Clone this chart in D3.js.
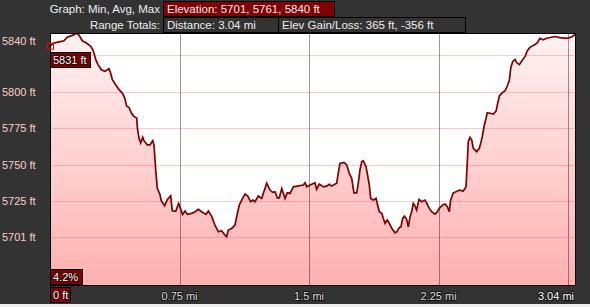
<!DOCTYPE html>
<html>
<head>
<meta charset="utf-8">
<script src="https://cdn.jsdelivr.net/npm/d3@7"></script>
<style>
  body { margin: 0; background: #efefef; }
  svg { display: block; font-family: "Liberation Sans", Arial, sans-serif; }
</style>
</head>
<body>
<script>
// profile (miles, feet)
const distances = [0.000, 0.019, 0.052, 0.081, 0.100, 0.129, 0.158, 0.168, 0.187, 0.213,
  0.236, 0.251, 0.265, 0.278, 0.297, 0.318, 0.332, 0.342, 0.351, 0.361,
  0.380, 0.400, 0.419, 0.433, 0.444, 0.457, 0.471, 0.486, 0.502, 0.506,
  0.515, 0.525, 0.537, 0.544, 0.563, 0.579, 0.595, 0.602, 0.612, 0.621,
  0.637, 0.644, 0.664, 0.679, 0.699, 0.708, 0.728, 0.745, 0.768, 0.782,
  0.795, 0.820, 0.840, 0.859, 0.878, 0.903, 0.917, 0.936, 0.955, 0.975,
  0.994, 1.013, 1.023, 1.032, 1.052, 1.071, 1.085, 1.096, 1.110, 1.129,
  1.145, 1.162, 1.174, 1.187, 1.206, 1.226, 1.235, 1.255, 1.274, 1.290,
  1.303, 1.316, 1.328, 1.342, 1.361, 1.374, 1.390, 1.409, 1.467, 1.477,
  1.486, 1.506, 1.534, 1.544, 1.559, 1.583, 1.602, 1.617, 1.631, 1.660,
  1.669, 1.679, 1.702, 1.718, 1.733, 1.747, 1.760, 1.776, 1.785, 1.795,
  1.805, 1.814, 1.830, 1.837, 1.849, 1.857, 1.872, 1.888, 1.897, 1.907,
  1.921, 1.930, 1.940, 1.953, 1.963, 1.979, 1.998, 2.008, 2.023, 2.032,
  2.042, 2.052, 2.065, 2.075, 2.085, 2.094, 2.104, 2.114, 2.123, 2.137,
  2.152, 2.171, 2.181, 2.196, 2.210, 2.229, 2.239, 2.254, 2.274, 2.287,
  2.301, 2.312, 2.320, 2.335, 2.351, 2.370, 2.393, 2.409, 2.416, 2.422,
  2.432, 2.442, 2.451, 2.471, 2.486, 2.494, 2.503, 2.513, 2.525, 2.532,
  2.548, 2.567, 2.583, 2.590, 2.602, 2.621, 2.635, 2.648, 2.660, 2.668,
  2.679, 2.693, 2.702, 2.718, 2.732, 2.751, 2.764, 2.779, 2.808, 2.822,
  2.837, 2.856, 2.876, 2.924, 2.953, 2.992, 3.021, 3.040];
const elevations = [5831, 5833.0, 5833.9, 5834.7, 5837.1, 5838.4, 5840, 5838.4, 5834.7, 5833.0,
  5830.9, 5827.9, 5821.8, 5818.4, 5814.9, 5813.8, 5814.9, 5815.6, 5812.7, 5808.1,
  5804.7, 5801.3, 5799.0, 5795.6, 5790.0, 5789.3, 5785.4, 5783.1, 5782.0, 5775.1,
  5768.3, 5764.9, 5768.8, 5766.5, 5763.7, 5763.7, 5766.5, 5763.7, 5746.7, 5734.2,
  5729.6, 5725.5, 5722.1, 5726.2, 5728.9, 5718.7, 5718.3, 5723.6, 5716.2, 5718.5,
  5716.2, 5716.9, 5718.0, 5719.6, 5718.0, 5716.2, 5718.5, 5715.0, 5708.9, 5704.3,
  5705.0, 5702.0, 5701.0, 5705.5, 5706.6, 5708.9, 5716.9, 5722.6, 5726.0, 5730.1,
  5728.7, 5724.8, 5726.0, 5724.8, 5728.7, 5727.1, 5730.5, 5737.4, 5732.8, 5731.2,
  5731.6, 5727.5, 5727.5, 5733.9, 5727.1, 5730.9, 5730.5, 5735.0, 5736.2, 5737.8,
  5735.0, 5736.2, 5737.8, 5733.3, 5736.9, 5735.0, 5735.5, 5736.7, 5735.5, 5737.4,
  5744.2, 5751.0, 5751.7, 5749.9, 5744.2, 5740.8, 5730.9, 5730.9, 5737.4, 5746.5,
  5752.1, 5752.8, 5748.7, 5744.2, 5736.2, 5727.1, 5726.0, 5727.1, 5722.6, 5718.0,
  5716.9, 5713.5, 5710.1, 5712.3, 5710.5, 5706.7, 5703.6, 5704.3, 5707.3, 5707.7,
  5713.5, 5715.0, 5712.8, 5707.7, 5714.6, 5718.0, 5723.7, 5721.9, 5719.1, 5726.4,
  5724.8, 5726.0, 5724.1, 5720.3, 5718.0, 5716.4, 5717.3, 5720.3, 5722.6, 5723.2,
  5721.4, 5718.0, 5726.0, 5730.9, 5731.6, 5732.8, 5732.1, 5735.0, 5751.0, 5765.8,
  5768.8, 5766.9, 5761.3, 5759.0, 5761.3, 5764.7, 5769.2, 5776.0, 5781.8, 5785.6,
  5785.2, 5784.7, 5786.7, 5790.8, 5797.0, 5799.5, 5800.7, 5803.8, 5807.9, 5816.1,
  5820.4, 5822.0, 5819.7, 5818.4, 5820.9, 5824.0, 5827.9, 5830.2, 5832.1, 5833.4,
  5836.4, 5835.4, 5836.4, 5837.6, 5836.9, 5836.4, 5837.3, 5839.0];

const yGridTicks = [5825, 5800, 5775, 5750, 5725, 5701];
const yLabelTicks = [5840, 5800, 5775, 5750, 5725, 5701];
const xGridTicks = [0.75, 1.5, 2.25, 3.0];
const xLabelTicks = [0.75, 1.5, 2.25];

const elevStats = [5701, 5761, 5840];  // min, avg, max
const totalDistance = 3.04;
const gainLoss = [365, -356];
const startGrade = "4.2%";

const data = distances.map((d, i) => ({ d: d, e: elevations[i] }));

const W = 590, H = 307;
const svg = d3.select("body").append("svg")
    .attr("width", W)
    .attr("height", H);

const plot = { left: 50, right: 575, top: 33, bottom: 285 };

const x = d3.scaleLinear().domain([0, totalDistance]).range([plot.left, plot.right]);
const y = d3.scaleLinear().domain([5668, 5840]).range([plot.bottom, plot.top]);

// backgrounds
svg.append("rect").attr("width", W).attr("height", 304).attr("fill", "#333333");
svg.append("rect").attr("x", plot.left).attr("y", plot.top)
    .attr("width", plot.right - plot.left).attr("height", plot.bottom - plot.top)
    .attr("fill", "#ffffff");

const grad = svg.append("defs").append("linearGradient")
    .attr("id", "fillGrad")
    .attr("gradientUnits", "userSpaceOnUse")
    .attr("x1", 0).attr("y1", plot.top).attr("x2", 0).attr("y2", plot.bottom);
grad.append("stop").attr("offset", "0%").attr("stop-color", "#fff2f2");
grad.append("stop").attr("offset", "100%").attr("stop-color", "#ffb0b0");

const area = d3.area()
    .x(d => x(d.d))
    .y0(plot.bottom)
    .y1(d => y(d.e));

svg.append("path").datum(data)
    .attr("d", area)
    .attr("fill", "url(#fillGrad)");

// grid
svg.append("g").selectAll("line").data(yGridTicks).join("line")
    .attr("x1", plot.left).attr("x2", plot.right)
    .attr("y1", d => Math.round(y(d)) + 0.5).attr("y2", d => Math.round(y(d)) + 0.5)
    .attr("stroke", "rgba(255,60,60,0.28)");

svg.append("g").selectAll("line").data(xGridTicks).join("line")
    .attr("x1", d => Math.round(x(d)) + 0.5).attr("x2", d => Math.round(x(d)) + 0.5)
    .attr("y1", plot.top).attr("y2", plot.bottom)
    .attr("stroke", "rgba(0,0,0,0.4)");

const line = d3.line()
    .x(d => x(d.d))
    .y(d => y(d.e));

svg.append("path").datum(data)
    .attr("d", line)
    .attr("fill", "none")
    .attr("stroke", "#800000")
    .attr("stroke-width", 1.7)
    .attr("stroke-linejoin", "miter");

// frame
svg.append("rect")
    .attr("x", plot.left + 0.5).attr("y", plot.top + 0.5)
    .attr("width", plot.right - plot.left).attr("height", plot.bottom - plot.top)
    .attr("fill", "none").attr("stroke", "#000");

// y labels
svg.append("g").selectAll("text").data(yLabelTicks).join("text")
    .attr("x", 2)
    .attr("y", d => Math.max(y(d), 41))
    .attr("dy", "0.36em")
    .attr("font-size", "11px")
    .attr("fill", "#ffcccc")
    .text(d => d + " ft");

// x labels
svg.append("g").selectAll("text").data(xLabelTicks).join("text")
    .attr("x", d => x(d))
    .attr("y", 300)
    .attr("text-anchor", "middle")
    .attr("font-size", "11px")
    .attr("fill", "#dddddd")
    .attr("stroke", "rgba(0,0,0,0.6)")
    .attr("stroke-width", 2)
    .attr("paint-order", "stroke")
    .text(d => d + " mi");

svg.append("text")
    .attr("x", 574).attr("y", 300)
    .attr("text-anchor", "end")
    .attr("font-size", "11px")
    .attr("fill", "#ffffff")
    .attr("stroke", "rgba(0,0,0,0.6)")
    .attr("stroke-width", 2)
    .attr("paint-order", "stroke")
    .text(totalDistance + " mi");

// small boxed labels
function boxLabel(bx, by, bw, bh, txt, fill) {
  svg.append("rect")
      .attr("x", bx + 0.5).attr("y", by + 0.5)
      .attr("width", bw).attr("height", bh)
      .attr("fill", fill).attr("stroke", "#000");
  svg.append("text")
      .attr("x", bx + 3).attr("y", by + bh / 2 + 1)
      .attr("dy", "0.35em")
      .attr("font-size", "11px")
      .attr("fill", "#ffffff")
      .attr("stroke", "rgba(0,0,0,0.7)")
      .attr("stroke-width", 2)
      .attr("paint-order", "stroke")
      .text(txt);
}

boxLabel(50, 287, 20, 15, "0 ft", "#800000");
boxLabel(50, 269, 32, 15, startGrade, "#800000");
boxLabel(50, 52, 40, 15, elevations[0] + " ft", "#800000");

// start marker
svg.append("rect")
    .attr("x", x(distances[0]) - 2.5).attr("y", y(elevations[0]) - 3)
    .attr("width", 6).attr("height", 6)
    .attr("fill", "none").attr("stroke", "#ff0000");

// header
svg.append("text")
    .attr("x", 160).attr("y", 13)
    .attr("text-anchor", "end")
    .attr("font-size", "11.5px")
    .attr("fill", "#eeeeee")
    .text("Graph: Min, Avg, Max");
svg.append("text")
    .attr("x", 160).attr("y", 29)
    .attr("text-anchor", "end")
    .attr("font-size", "11.5px")
    .attr("fill", "#eeeeee")
    .text("Range Totals:");

function headBox(bx, by, bw, txt, fill) {
  svg.append("rect")
      .attr("x", bx + 0.5).attr("y", by + 0.5)
      .attr("width", bw).attr("height", 15)
      .attr("fill", fill).attr("stroke", "#000");
  svg.append("text")
      .attr("x", bx + 4).attr("y", by + 12)
      .attr("font-size", "11.5px")
      .attr("fill", "#eeeeee")
      .text(txt);
}

headBox(163, 1, 171, "Elevation: " + elevStats.join(", ") + " ft", "#800000");
headBox(163, 17, 115, "Distance: " + totalDistance + " mi", "#333333");
headBox(278, 17, 187, "Elev Gain/Loss: " + gainLoss[0] + " ft, " + gainLoss[1] + " ft", "#333333");
</script>
</body>
</html>
